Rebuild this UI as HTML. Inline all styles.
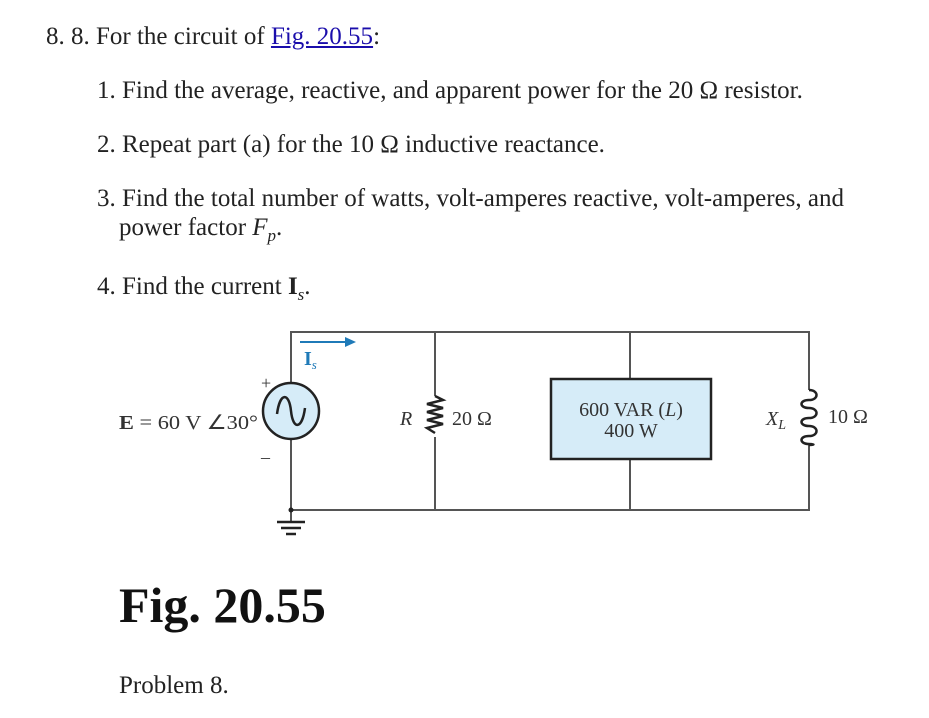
<!DOCTYPE html>
<html><head><style>
body{margin:0;width:929px;height:718px;background:#fff;font-family:"Liberation Serif",serif;color:#222;position:relative;overflow:hidden}
.t{position:absolute;font-size:25px;white-space:nowrap}
a{color:#1a0dab;text-decoration:underline}
</style></head><body>
<div class="t" style="left:46px;top:23px">8. 8. For the circuit of <a>Fig. 20.55</a>:</div>
<div class="t" style="left:97px;top:77px">1. Find the average, reactive, and apparent power for the 20 Ω resistor.</div>
<div class="t" style="left:97px;top:131px">2. Repeat part (a) for the 10 Ω inductive reactance.</div>
<div class="t" style="left:97px;top:185px">3. Find the total number of watts, volt-amperes reactive, volt-amperes, and</div>
<div class="t" style="left:119px;top:214px">power factor <i>F</i><sub style="font-size:17px"><i>p</i></sub>.</div>
<div class="t" style="left:97px;top:273px">4. Find the current <b>I</b><sub style="font-size:17px"><i>s</i></sub>.</div>
<svg width="929" height="718" style="position:absolute;left:0;top:0" font-family="Liberation Serif, serif">
<g stroke="#555" stroke-width="2" fill="none">
<path d="M291 383 V332 H809 V390 M809 445 V510 H291 V439"/>
<path d="M435 332 V396 M435 437 V510"/>
<path d="M630 332 V379 M630 459 V510"/>
<path d="M291 510 V522"/>
</g>
<g stroke="#222" stroke-width="2.5" fill="none">
<path d="M435 396 l8 4 l-16 4 l16 4 l-16 4 l16 4 l-16 4 l16 4 l-16 4 l8 5"/>
<path d="M809 390 c10 0 10 10 0 10 c-10 0 -10 8 0 8 c10 0 10 10 0 10 c-10 0 -10 8 0 8 c10 0 10 10 0 10 c-10 0 -10 8 0 8 c6 0 6 1 0 1" />
<path d="M277 522 H305 M281 528 H301 M286 534 H296" stroke-width="2.5"/>
</g>
<circle cx="291" cy="510" r="2.5" fill="#222"/>
<circle cx="291" cy="411" r="28" fill="#d6ecf8" stroke="#222" stroke-width="2.5"/>
<path d="M277 414 c3 -22 12 -22 14 -3 c2 19 11 19 14 -3" fill="none" stroke="#222" stroke-width="2.5"/>
<rect x="551" y="379" width="160" height="80" fill="#d6ecf8" stroke="#222" stroke-width="2.5"/>
<path d="M300 342 H347" stroke="#1f7ab8" stroke-width="2"/>
<path d="M356 342 l-11 -5 v10z" fill="#1f7ab8"/>
<text x="304" y="365" fill="#1f7ab8" font-size="20" font-weight="bold">I<tspan font-size="13" font-style="italic" font-weight="normal" dy="4">s</tspan></text>
<g fill="#333" font-size="20">
<text x="261" y="389" font-size="18">+</text>
<text x="261" y="463" font-size="18">–</text>
<text x="119" y="429" textLength="139" lengthAdjust="spacingAndGlyphs"><tspan font-weight="bold">E</tspan> = 60 V ∠30°</text>
<text x="400" y="425" font-style="italic">R</text>
<text x="452" y="425">20 Ω</text>
<text x="631" y="416" text-anchor="middle">600 VAR (<tspan font-style="italic">L</tspan>)</text>
<text x="631" y="437" text-anchor="middle">400 W</text>
<text x="766" y="425" font-style="italic">X<tspan font-size="14" dy="4">L</tspan></text>
<text x="828" y="423">10 Ω</text>
</g>
</svg>
<div class="t" style="left:119px;top:576px;font-size:50px;font-weight:bold;color:#111">Fig. 20.55</div>
<div class="t" style="left:119px;top:672px;font-size:25px">Problem 8.</div>
</body></html>
